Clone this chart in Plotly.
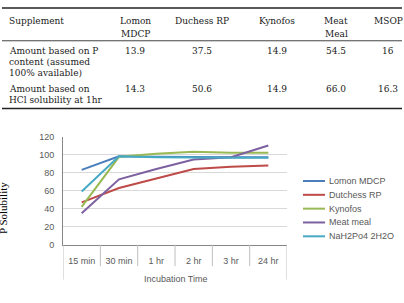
import plotly.graph_objects as go

# ---------------- data ----------------
categories = ["15 min", "30 min", "1 hr", "2 hr", "3 hr", "24 hr"]
series_names = ["Lomon MDCP", "Dutchess RP", "Kynofos", "Meat meal", "NaH2Po4 2H2O"]
lomon = [83, 98, 97.5, 97, 97, 97]
dutchess = [47, 63, 73.5, 84, 86.5, 88]
kynofos = [42, 97.5, 101, 103, 102, 102]
meat_meal = [35, 72.5, 84, 94.5, 97, 110]
nah2po4 = [59, 98, 97, 96.5, 96.5, 96.5]
series_values = [lomon, dutchess, kynofos, meat_meal, nah2po4]
colors = ["#4A7EBB", "#BE4B48", "#98B954", "#7D60A0", "#46AAC5"]
y_ticks = [0, 20, 40, 60, 80, 100, 120]

table_header = [["Lomon", "MDCP"], ["Duchess RP"], ["Kynofos"], ["Meat", "Meal"], ["MSOP"]]
row_labels = [["Amount based on P", "content (assumed", "100% available)"],
              ["Amount based on", "HCl solubility at 1hr"]]
row_p_content = ["13.9", "37.5", "14.9", "54.5", "16"]
row_hcl = ["14.3", "50.6", "14.9", "66.0", "16.3"]
table_rows = [row_p_content, row_hcl]

W, H = 404, 303
def px(x):
    return x / W
def py(y):
    return 1 - y / H

fig = go.Figure()
for name, vals, c in zip(series_names, series_values, colors):
    fig.add_trace(go.Scatter(x=categories, y=vals, mode="lines", name=name,
                             line=dict(color=c, width=2), showlegend=False))

axis_font = dict(family="Liberation Sans", size=9, color="#595959")
fig.update_layout(
    width=W, height=H, margin=dict(l=0, r=0, t=0, b=0),
    paper_bgcolor="white", plot_bgcolor="white",
    xaxis=dict(domain=[px(63), px(287)], type="category", range=[-0.5, 5.5],
               showgrid=False, showline=True, linecolor="#868686", linewidth=1,
               ticks="outside", ticklen=7, tickcolor="rgba(0,0,0,0)",
               tickfont=axis_font, fixedrange=True),
    yaxis=dict(domain=[py(248), py(136)], range=[0, 120], tickvals=y_ticks,
               showgrid=True, gridcolor="#D9D9D9", gridwidth=1,
               showline=True, linecolor="#868686", linewidth=1,
               zeroline=False, ticks="outside", ticklen=6,
               tickcolor="rgba(0,0,0,0)", tickfont=axis_font),
)

shapes = []
# category dividers below the axis
for i in range(len(categories) + 1):
    bottom = 284 if i in (0, len(categories)) else 270
    shapes.append(dict(type="line", xref="x", yref="paper", x0=i - 0.5, x1=i - 0.5,
                       y0=py(248), y1=py(bottom), line=dict(color="#BFBFBF", width=1)))

annotations = []
annotations.append(dict(text="Incubation Time", xref="paper", yref="paper",
                        x=px(176), y=py(283), showarrow=False,
                        font=axis_font, xanchor="center", yanchor="middle"))
annotations.append(dict(text="P Solubility", xref="paper", yref="paper",
                        x=px(3), y=py(210), showarrow=False, textangle=-90,
                        font=dict(family="Liberation Serif", size=11, color="#000000"),
                        xanchor="center", yanchor="middle"))

# manual legend
leg_y0, leg_dy = 182, 14.3
for k, (name, c) in enumerate(zip(series_names, colors)):
    yy = leg_y0 + k * leg_dy
    shapes.append(dict(type="line", xref="paper", yref="paper", x0=px(303), x1=px(325),
                       y0=py(yy), y1=py(yy), line=dict(color=c, width=2)))
    annotations.append(dict(text=name, xref="paper", yref="paper", x=px(327), y=py(yy),
                            showarrow=False, xanchor="left", yanchor="middle", font=axis_font))

# table
tfont = dict(family="DejaVu Serif", size=9, color="#1a1a1a")
shapes.append(dict(type="line", xref="paper", yref="paper", x0=px(2), x1=px(402),
                   y0=py(3), y1=py(3), line=dict(color="#222222", width=1.5)))
shapes.append(dict(type="line", xref="paper", yref="paper", x0=px(2), x1=px(402),
                   y0=py(37), y1=py(37), line=dict(color="#444444", width=1)))
shapes.append(dict(type="line", xref="paper", yref="paper", x0=px(2), x1=px(402),
                   y0=py(107), y1=py(107), line=dict(color="#222222", width=1.5)))

col_x = [135, 202, 277, 336, 388]
annotations.append(dict(text="Supplement", xref="paper", yref="paper", x=px(7), y=py(17),
                        showarrow=False, xanchor="left", yanchor="middle", font=tfont))
for cx, lines in zip(col_x, table_header):
    for j, t in enumerate(lines):
        annotations.append(dict(text=t, xref="paper", yref="paper", x=px(cx), y=py(17 + j * 12.5),
                                showarrow=False, xanchor="center", yanchor="middle", font=tfont))
row_y = [48, 87]
for ry, lbl, vals in zip(row_y, row_labels, table_rows):
    for j, t in enumerate(lbl):
        annotations.append(dict(text=t, xref="paper", yref="paper", x=px(7), y=py(ry + j * 11),
                                showarrow=False, xanchor="left", yanchor="middle", font=tfont))
    for cx, v in zip(col_x, vals):
        annotations.append(dict(text=v, xref="paper", yref="paper", x=px(cx), y=py(ry),
                                showarrow=False, xanchor="center", yanchor="middle", font=tfont))

fig.update_layout(shapes=shapes, annotations=annotations)
fig.write_html("out.html")
